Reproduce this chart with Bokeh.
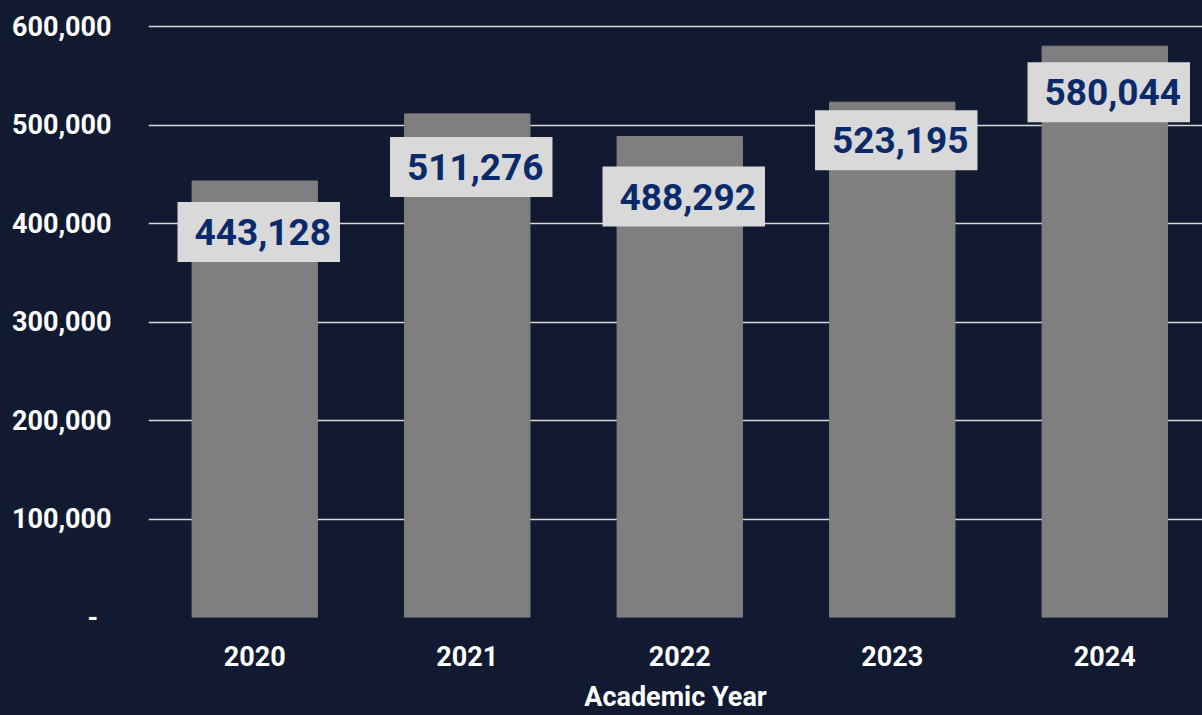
from bokeh.plotting import figure
from bokeh.models import ColumnDataSource, Label, FixedTicker, Range1d
from bokeh.embed import file_html
from bokeh.resources import INLINE

years = ["2020", "2021", "2022", "2023", "2024"]
enrollment = [443128, 511276, 488292, 523195, 580044]
y_ticks = [0, 100000, 200000, 300000, 400000, 500000, 600000]
y_tick_labels = ["-\u00a0\u00a0", "100,000", "200,000", "300,000", "400,000", "500,000", "600,000"]
x_axis_title = "Academic Year"

# screen-pixel offsets of the value boxes below each bar top (layout only)
label_offsets = [-51, -53, -60, -38, -46]

BG = "#111a30"
FONT = "Roboto"

idx = list(range(len(years)))
src = ColumnDataSource(dict(x=idx, year=years, value=enrollment))

p = figure(width=1202, height=715,
           x_range=Range1d(-0.5, len(years) - 0.54),
           y_range=Range1d(0, 616244),
           output_backend="svg", toolbar_location=None,
           min_border_left=148, min_border_right=0,
           min_border_top=10, min_border_bottom=98)

p.styles = {"background-color": BG}
p.background_fill_color = BG
p.border_fill_color = BG
p.outline_line_color = None

p.vbar(x="x", top="value", width=0.59, source=src,
       fill_color="#7f7f7f", line_color="#7f7f7f")

for i, v, off in zip(idx, enrollment, label_offsets):
    p.add_layout(Label(x=i, y=v, y_offset=off, x_offset=4, text=f"{v:,}",
                       text_align="center", text_baseline="middle",
                       text_font=FONT, text_font_size="37px", text_font_style="bold",
                       text_color="#0b2a6a",
                       background_fill_color="#d9d9d9",
                       padding=dict(left=17, right=9, top=17, bottom=17)))

# y axis
p.yaxis.ticker = FixedTicker(ticks=y_ticks)
p.yaxis.major_label_overrides = {t: l for t, l in zip(y_ticks, y_tick_labels)}
p.yaxis.axis_line_color = None
p.yaxis.major_tick_line_color = None
p.yaxis.minor_tick_line_color = None
p.yaxis.major_label_standoff = 31
p.yaxis.major_label_text_font = FONT
p.yaxis.major_label_text_font_size = "27px"
p.yaxis.major_label_text_font_style = "bold"
p.yaxis.major_label_text_color = "white"

# x axis
p.xaxis.ticker = FixedTicker(ticks=idx)
p.xaxis.major_label_overrides = {i: y for i, y in zip(idx, years)}
p.xaxis.axis_line_color = None
p.xaxis.major_tick_line_color = None
p.xaxis.minor_tick_line_color = None
p.xaxis.major_label_standoff = 22
p.xaxis.major_label_text_font = FONT
p.xaxis.major_label_text_font_size = "27px"
p.xaxis.major_label_text_font_style = "bold"
p.xaxis.major_label_text_color = "white"
p.xaxis.axis_label = x_axis_title
p.xaxis.axis_label_standoff = 12
p.xaxis.axis_label_text_font = FONT
p.xaxis.axis_label_text_font_size = "27px"
p.xaxis.axis_label_text_font_style = "bold"
p.xaxis.axis_label_text_color = "white"

p.xgrid.grid_line_color = None
p.ygrid.ticker = FixedTicker(ticks=y_ticks)
p.ygrid.grid_line_color = "#d9d9d9"
p.ygrid.grid_line_width = 1.5

open("out.html", "w").write(file_html(p, INLINE))
